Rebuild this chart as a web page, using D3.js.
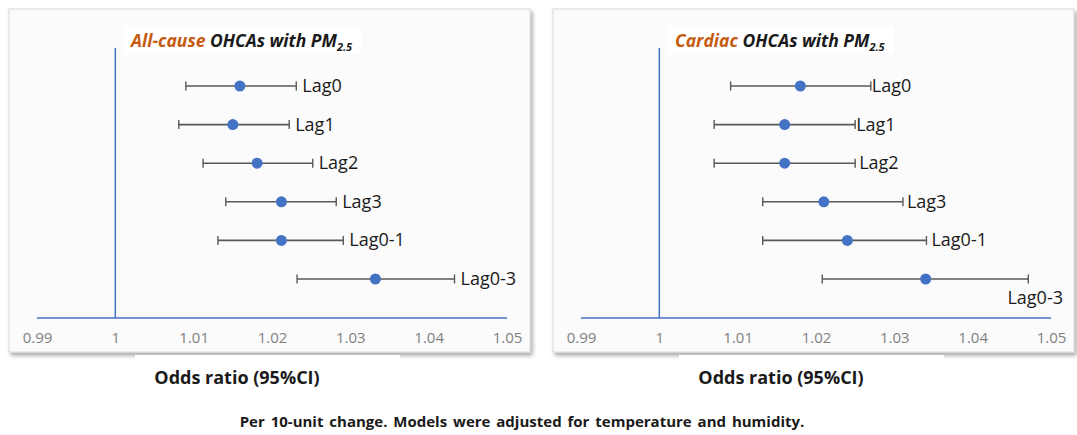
<!DOCTYPE html>
<html>
<head>
<meta charset="utf-8">
<script src="https://cdn.jsdelivr.net/npm/d3@7"></script>
<style>
  body { margin: 0; background: #fff; }
  text { font-family: "Open Sans", sans-serif; }
</style>
</head>
<body>
<svg id="chart" width="1077" height="435"></svg>
<script>
// lag labels, top to bottom
const lags = ["Lag0", "Lag1", "Lag2", "Lag3", "Lag0-1", "Lag0-3"];
const ticks = [0.99, 1, 1.01, 1.02, 1.03, 1.04, 1.05];

// all-cause OHCAs
const allOR = [1.0159, 1.0150, 1.0181, 1.0212, 1.0212, 1.0332];
const allLo = [1.0090, 1.0081, 1.0112, 1.0141, 1.0131, 1.0232];
const allHi = [1.0231, 1.0222, 1.0252, 1.0282, 1.0291, 1.0433];

// cardiac OHCAs
const cardOR = [1.0180, 1.0160, 1.0160, 1.0210, 1.0240, 1.0340];
const cardLo = [1.0091, 1.0070, 1.0070, 1.0132, 1.0132, 1.0208];
const cardHi = [1.0270, 1.0250, 1.0250, 1.0311, 1.0341, 1.0471];

const svg = d3.select("#chart");

const defs = svg.append("defs");
const f = defs.append("filter").attr("id", "shadow")
  .attr("x", "-5%").attr("y", "-5%").attr("width", "112%").attr("height", "115%");
f.append("feDropShadow").attr("dx", 2).attr("dy", 3).attr("stdDeviation", 2)
  .attr("flood-color", "#000").attr("flood-opacity", 0.35);

function panel(ox, name, or, lo, hi) {
  const g = svg.append("g").attr("transform", `translate(${ox},0)`);
  const rows = lags.map((l, i) => ({ lag: l, or: or[i], lo: lo[i], hi: hi[i] }));

  g.append("rect").attr("x", 9).attr("y", 9).attr("width", 521).attr("height", 343)
    .attr("fill", "#fbfbfb").attr("stroke", "#d9d9d9").attr("filter", "url(#shadow)");

  const x = d3.scaleLinear().domain([0.99, 1.05]).range([37, 507]);
  const y = d3.scalePoint().domain(lags).range([86, 279]);

  // title with white box
  const box = g.append("rect").attr("x", 124).attr("y", 26).attr("height", 28).attr("fill", "#fff");
  const t = g.append("text").attr("x", 131).attr("y", 47)
    .attr("font-size", 17.5).attr("font-weight", 700).attr("font-style", "italic")
    .attr("fill", "#1a1a1a");
  t.append("tspan").attr("fill", "#c55a11").text(name);
  t.append("tspan").text(" OHCAs with PM");
  t.append("tspan").attr("font-size", 11).attr("dy", 4).text("2.5");
  box.attr("width", t.node().getComputedTextLength() + 16);

  // axes lines
  g.append("line").attr("x1", x(0.99)).attr("x2", x(1.05)).attr("y1", 318).attr("y2", 318)
    .attr("stroke", "#4472c4").attr("stroke-width", 1.5);
  g.append("line").attr("x1", x(1)).attr("x2", x(1)).attr("y1", 48).attr("y2", 318)
    .attr("stroke", "#4472c4").attr("stroke-width", 1.5);

  const ax = g.append("g").attr("transform", "translate(0,318)")
    .call(d3.axisBottom(x).tickValues(ticks).tickFormat(d => d3.format("")(+d.toFixed(2))).tickSize(0).tickPadding(14));
  ax.select(".domain").remove();
  ax.selectAll("text").attr("font-size", 15).attr("fill", "#7f7f7f")
    .attr("font-family", "'Open Sans', sans-serif");

  // error bars
  const bars = g.append("g").selectAll("g").data(rows).join("g");
  bars.append("line").attr("x1", d => x(d.lo)).attr("x2", d => x(d.hi))
    .attr("y1", d => y(d.lag)).attr("y2", d => y(d.lag))
    .attr("stroke", "#595959").attr("stroke-width", 1.6);
  ["lo", "hi"].forEach(k => {
    bars.append("line").attr("x1", d => x(d[k])).attr("x2", d => x(d[k]))
      .attr("y1", d => y(d.lag) - 4.5).attr("y2", d => y(d.lag) + 4.5)
      .attr("stroke", "#595959").attr("stroke-width", 1.4);
  });
  bars.append("circle").attr("cx", d => x(d.or)).attr("cy", d => y(d.lag))
    .attr("r", 5.5).attr("fill", "#4472c4");
  return { g, x, y, rows };
}

const L = panel(0, "All-cause", allOR, allLo, allHi);
L.g.append("g").selectAll("text").data(L.rows).join("text")
  .attr("x", d => L.x(d.hi) + 6).attr("y", d => L.y(d.lag) + 6)
  .attr("font-size", 18).attr("fill", "#1a1a1a").text(d => d.lag);

// right panel label gaps differ a little, as in the source
const rightGap = [1, 1, 4, 4, 5];
const R = panel(544, "Cardiac", cardOR, cardLo, cardHi);
R.g.append("g").selectAll("text").data(R.rows.slice(0, 5)).join("text")
  .attr("x", (d, i) => R.x(d.hi) + rightGap[i]).attr("y", d => R.y(d.lag) + 6)
  .attr("font-size", 18).attr("fill", "#1a1a1a").text(d => d.lag);
R.g.append("text").attr("x", 519).attr("y", R.y("Lag0-3") + 25).attr("text-anchor", "end")
  .attr("font-size", 18).attr("fill", "#1a1a1a").text("Lag0-3");

// axis titles
[L, R].forEach(p => {
  p.g.append("rect").attr("x", 135).attr("y", 355).attr("width", 265).attr("height", 10).attr("fill", "#fff");
  p.g.append("text").attr("x", 237).attr("y", 384).attr("text-anchor", "middle")
    .attr("font-size", 18).attr("font-weight", 700).attr("fill", "#1a1a1a").text("Odds ratio (95%CI)");
});

svg.append("text").attr("x", 522).attr("y", 427).attr("text-anchor", "middle")
  .attr("font-size", 15).attr("font-weight", 700).attr("fill", "#1a1a1a")
  .attr("word-spacing", 2)
  .text("Per 10-unit change. Models were adjusted for temperature and humidity.");
</script>
</body>
</html>
